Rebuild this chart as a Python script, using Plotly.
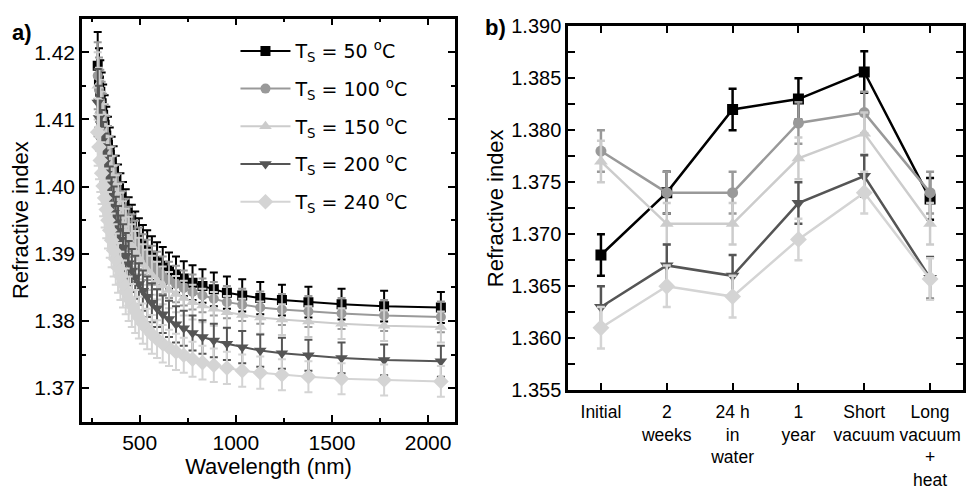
import plotly.graph_objects as go

# ---------------- Panel a) data ----------------
wavelength_nm = [2066.4, 1771.2, 1549.8, 1377.6, 1239.8, 1127.1, 1033.2, 953.7, 885.6, 826.6,
                 774.9, 729.3, 688.8, 652.5, 619.9, 590.4, 563.6, 539.1, 516.6, 495.9,
                 476.9, 459.2, 442.8, 427.5, 413.3, 399.9, 387.5, 375.7, 364.7, 354.2,
                 344.4, 335.1, 326.3, 317.9, 310.0, 302.4, 295.2, 288.3, 281.8]

n_50 = [1.3820, 1.3822, 1.3825, 1.3828, 1.3831, 1.3834, 1.3838, 1.3842, 1.3847, 1.3852,
        1.3857, 1.3863, 1.3869, 1.3875, 1.3882, 1.3889, 1.3897, 1.3905, 1.3913, 1.3922,
        1.3931, 1.3941, 1.3951, 1.3962, 1.3972, 1.3984, 1.3996, 1.4008, 1.4021, 1.4034,
        1.4047, 1.4062, 1.4076, 1.4092, 1.4107, 1.4124, 1.4141, 1.4158, 1.4180]
n_100 = [1.3806, 1.3808, 1.3811, 1.3814, 1.3817, 1.3820, 1.3824, 1.3828, 1.3833, 1.3838,
         1.3843, 1.3849, 1.3855, 1.3861, 1.3868, 1.3875, 1.3883, 1.3891, 1.3899, 1.3908,
         1.3917, 1.3927, 1.3937, 1.3948, 1.3958, 1.3970, 1.3982, 1.3994, 1.4007, 1.4020,
         1.4033, 1.4048, 1.4062, 1.4078, 1.4093, 1.4110, 1.4127, 1.4144, 1.4165]
n_150 = [1.3791, 1.3793, 1.3796, 1.3799, 1.3802, 1.3805, 1.3809, 1.3813, 1.3818, 1.3823,
         1.3828, 1.3834, 1.3840, 1.3846, 1.3853, 1.3860, 1.3868, 1.3876, 1.3884, 1.3893,
         1.3902, 1.3912, 1.3922, 1.3933, 1.3943, 1.3955, 1.3967, 1.3979, 1.3992, 1.4005,
         1.4018, 1.4033, 1.4047, 1.4063, 1.4078, 1.4095, 1.4112, 1.4129, 1.4150]
n_200 = [1.3740, 1.3742, 1.3745, 1.3749, 1.3752, 1.3756, 1.3761, 1.3766, 1.3771, 1.3776,
         1.3782, 1.3789, 1.3795, 1.3803, 1.3810, 1.3819, 1.3827, 1.3836, 1.3845, 1.3855,
         1.3865, 1.3875, 1.3886, 1.3897, 1.3909, 1.3921, 1.3934, 1.3947, 1.3961, 1.3974,
         1.3989, 1.4004, 1.4019, 1.4035, 1.4051, 1.4068, 1.4085, 1.4102, 1.4125]
n_240 = [1.3710, 1.3712, 1.3714, 1.3717, 1.3720, 1.3723, 1.3726, 1.3730, 1.3734, 1.3738,
         1.3743, 1.3749, 1.3754, 1.3760, 1.3766, 1.3773, 1.3780, 1.3788, 1.3796, 1.3805,
         1.3814, 1.3823, 1.3833, 1.3844, 1.3855, 1.3867, 1.3879, 1.3892, 1.3905, 1.3920,
         1.3935, 1.3950, 1.3966, 1.3983, 1.4001, 1.4020, 1.4039, 1.4059, 1.4081]
err_a = [0.0023, 0.0023, 0.0023, 0.0023, 0.0023, 0.0024, 0.0024, 0.0024, 0.0025, 0.0025,
         0.0026, 0.0026, 0.0027, 0.0027, 0.0028, 0.0028, 0.0029, 0.0030, 0.0030, 0.0031,
         0.0032, 0.0032, 0.0033, 0.0034, 0.0035, 0.0036, 0.0037, 0.0038, 0.0039, 0.0040,
         0.0041, 0.0042, 0.0043, 0.0044, 0.0045, 0.0046, 0.0047, 0.0048, 0.0050]

# ---------------- Panel b) data ----------------
conditions = ["Initial", "2<br>weeks", "24 h<br>in<br>water", "1<br>year",
              "Short<br>vacuum", "Long<br>vacuum<br>+<br>heat"]
b_50 = [1.3680, 1.3740, 1.3820, 1.3830, 1.3856, 1.3734]
b_100 = [1.3780, 1.3740, 1.3740, 1.3807, 1.3817, 1.3740]
b_150 = [1.3770, 1.3710, 1.3710, 1.3773, 1.3797, 1.3710]
b_200 = [1.3630, 1.3670, 1.3660, 1.3730, 1.3756, 1.3658]
b_240 = [1.3610, 1.3650, 1.3640, 1.3695, 1.3740, 1.3657]
err_b = [0.0020, 0.0020, 0.0020, 0.0020, 0.0020, 0.0020]

legend_names = ["T<sub>S</sub> = 50 <sup>o</sup>C", "T<sub>S</sub> = 100 <sup>o</sup>C",
                "T<sub>S</sub> = 150 <sup>o</sup>C", "T<sub>S</sub> = 200 <sup>o</sup>C",
                "T<sub>S</sub> = 240 <sup>o</sup>C"]
colors = ["#000000", "#999999", "#cccccc", "#555555", "#d4d4d4"]
symbols = ["square", "circle", "triangle-up", "triangle-down", "diamond"]
msizes = [10, 10, 11, 11, 12]

series_a = [n_50, n_100, n_150, n_200, n_240]
series_b = [b_50, b_100, b_150, b_200, b_240]

fig = go.Figure()
for i in range(5):
    fig.add_trace(go.Scatter(
        x=wavelength_nm, y=series_a[i], mode="lines+markers", name=legend_names[i],
        legendgroup=f"g{i}",
        line=dict(color=colors[i], width=2),
        marker=dict(symbol=symbols[i], size=msizes[i], color=colors[i]),
        error_y=dict(type="data", array=err_a, color=colors[i], thickness=2, width=4),
        xaxis="x", yaxis="y"))
for i in range(5):
    fig.add_trace(go.Scatter(
        x=conditions, y=series_b[i], mode="lines+markers", showlegend=False,
        line=dict(color=colors[i], width=2.5),
        marker=dict(symbol=symbols[i], size=msizes[i] + 1, color=colors[i]),
        error_y=dict(type="data", array=err_b, color=colors[i], thickness=2.5, width=4),
        xaxis="x2", yaxis="y2"))

FAM = "Liberation Sans, Arial, sans-serif"
axis_common = dict(showline=True, linewidth=2.5, linecolor="black", mirror="ticks",
                   ticks="inside", ticklen=7, tickwidth=2, tickcolor="black",
                   showgrid=False, zeroline=False)

fig.update_layout(
    width=969, height=490,
    margin=dict(l=0, r=0, t=0, b=0),
    paper_bgcolor="white", plot_bgcolor="white",
    font=dict(family=FAM, color="black"),
    xaxis=dict(domain=[0.0846, 0.4696], range=[200, 2140], anchor="y",
               tickvals=[500, 1000, 1500, 2000],
               tickfont=dict(family=FAM, size=21, color="black"),
               minor=dict(dtick=250, tick0=0, ticks="inside", ticklen=4, tickwidth=2, tickcolor="black"),
               title=dict(text="Wavelength (nm)", font=dict(size=22), standoff=4),
               **axis_common),
    yaxis=dict(domain=[0.1224, 0.9837], range=[1.365, 1.425], anchor="x",
               tickvals=[1.37, 1.38, 1.39, 1.40, 1.41, 1.42], tickformat=".2f",
               tickfont=dict(family=FAM, size=21, color="black"),
               minor=dict(dtick=0.005, tick0=1.365, ticks="inside", ticklen=4, tickwidth=2, tickcolor="black"),
               title=dict(text="Refractive index", font=dict(size=22), standoff=0),
               **axis_common),
    xaxis2=dict(domain=[0.5862, 0.9938], range=[-0.5, 5.5], anchor="y2", type="category",
                tickfont=dict(family=FAM, size=17.5, color="black"), ticklabelstandoff=4,
                **axis_common),
    yaxis2=dict(domain=[0.1898, 0.9673], range=[1.355, 1.390], anchor="x2",
                tickvals=[1.355, 1.360, 1.365, 1.370, 1.375, 1.380, 1.385, 1.390], tickformat=".3f",
                tickfont=dict(family=FAM, size=20, color="black"),
                minor=dict(dtick=0.0025, tick0=1.355, ticks="inside", ticklen=7, tickwidth=2, tickcolor="black"),
                title=dict(text="Refractive index", font=dict(size=22), standoff=2),
                **axis_common),
    legend=dict(x=0.243, y=0.955, xanchor="left", yanchor="top", bgcolor="rgba(0,0,0,0)",
                font=dict(family="DejaVu Sans, sans-serif", size=19, color="black"),
                itemwidth=50, tracegroupgap=10),
    annotations=[
        dict(text="<b>a)</b>", x=0.01, y=0.955, xref="paper", yref="paper", showarrow=False,
             xanchor="left", yanchor="middle", font=dict(size=22, family=FAM)),
        dict(text="<b>b)</b>", x=0.498, y=0.965, xref="paper", yref="paper", showarrow=False,
             xanchor="left", yanchor="middle", font=dict(size=22, family=FAM)),
    ],
)

fig.write_html("out.html")
